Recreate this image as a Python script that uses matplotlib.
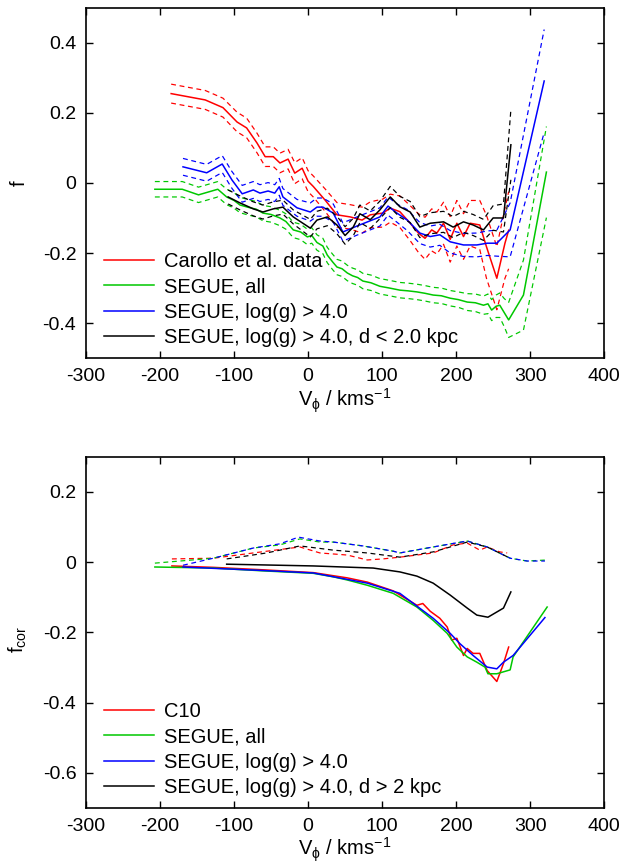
import numpy as np
import matplotlib
matplotlib.use('Agg')
import matplotlib.pyplot as plt

plt.rcParams['font.family'] = ['Liberation Sans', 'DejaVu Sans']
plt.rcParams['mathtext.fontset'] = 'custom'
plt.rcParams['mathtext.rm'] = 'Liberation Sans'
plt.rcParams['mathtext.it'] = 'Liberation Sans'
plt.rcParams['mathtext.fallback'] = 'stixsans'

RED, GREEN, BLUE, BLACK = '#ff0000', '#00c800', '#0000ff', '#000000'

# ---- top panel: f vs V_phi (solid = value, dashed = value +/- err)
v_car = [-185, -139, -115, -96, -83, -69, -58, -47, -38, -27, -18, -8, 0, 7, 23, 39, 57, 73, 84,
         101, 111, 124, 138, 149, 158, 167, 174, 183, 192, 201, 210, 219, 232, 241, 255, 266, 271]
f_car = [0.255, 0.237, 0.215, 0.174, 0.157, 0.114, 0.075, 0.075, 0.057, 0.068, 0.028, 0.042, 0.005,
         -0.01, -0.049, -0.091, -0.097, -0.106, -0.091, -0.086, -0.072, -0.082, -0.115, -0.143, -0.158,
         -0.134, -0.143, -0.115, -0.161, -0.115, -0.153, -0.115, -0.12, -0.182, -0.272, -0.172, -0.135]
e_car = [0.027, 0.027, 0.027, 0.028, 0.028, 0.028, 0.028, 0.028, 0.028, 0.028, 0.03, 0.03, 0.03,
         0.03, 0.032, 0.035, 0.035, 0.037, 0.037, 0.04, 0.04, 0.045, 0.05, 0.055, 0.06,
         0.06, 0.06, 0.06, 0.065, 0.065, 0.065, 0.065, 0.07, 0.09, 0.09, 0.1, 0.11]

v_all = [-207, -170, -148, -122, -110, -100, -92, -80, -70, -61, -50, -38, -30, -20, -10, -1, 5, 12,
         20, 26, 33, 39, 46, 53, 60, 67, 74, 85, 97, 110, 124, 135, 147, 158, 169, 180, 192, 203,
         215, 226, 237, 243, 248, 254, 259, 265, 271, 291, 322]
f_all = [-0.018, -0.018, -0.034, -0.018, -0.04, -0.05, -0.063, -0.07, -0.075, -0.086, -0.09, -0.1,
         -0.11, -0.134, -0.14, -0.154, -0.15, -0.17, -0.18, -0.206, -0.225, -0.24, -0.245, -0.257,
         -0.265, -0.27, -0.28, -0.285, -0.295, -0.3, -0.306, -0.308, -0.311, -0.315, -0.32, -0.322,
         -0.329, -0.333, -0.34, -0.342, -0.349, -0.345, -0.363, -0.352, -0.349, -0.37, -0.391,
         -0.32, 0.031]
e_all = [0.022] * 38 + [0.024, 0.025, 0.026, 0.028, 0.03, 0.032, 0.035, 0.04, 0.05, 0.1, 0.13]

v_lg = [-169, -137, -116, -103, -89, -74, -65, -54, -45, -39, -34, -15, 3, 12, 20, 34, 47, 66, 84,
        97, 108, 120, 134, 151, 165, 178, 192, 210, 228, 242, 255, 273, 319]
f_lg = [0.046, 0.029, 0.054, 0.009, -0.031, -0.02, -0.029, -0.023, -0.029, -0.011, -0.04, -0.071,
        -0.083, -0.069, -0.069, -0.086, -0.14, -0.123, -0.108, -0.097, -0.066, -0.086, -0.106,
        -0.143, -0.153, -0.148, -0.168, -0.177, -0.177, -0.172, -0.172, -0.134, 0.291]
e_lg = [0.024] * 12 + [0.026] * 10 + [0.03, 0.03, 0.03, 0.03, 0.032, 0.033, 0.034, 0.035, 0.037,
                                      0.077, 0.147]

v_d2 = [-108, -92, -74, -61, -47, -34, -20, 3, 12, 26, 39, 50, 61, 70, 84, 97, 111, 124, 138, 151,
        165, 183, 196, 210, 223, 237, 250, 264, 274]
f_d2 = [-0.04, -0.057, -0.074, -0.083, -0.074, -0.069, -0.097, -0.129, -0.106, -0.097, -0.12, -0.15,
        -0.126, -0.088, -0.105, -0.077, -0.04, -0.068, -0.083, -0.126, -0.115, -0.111, -0.126,
        -0.111, -0.12, -0.134, -0.1, -0.1, 0.109]
e_d2 = [0.02] * 7 + [0.025] * 9 + [0.03] * 10 + [0.035, 0.04, 0.1]

# ---- bottom panel: f_cor vs V_phi (solid and dashed curves)
vc_c10 = [-184, -128, -61, 7, 53, 80, 115, 147, 155, 165, 178, 188, 194, 201, 210, 215, 223, 232,
          242, 255, 264, 271]
fc_c10 = [-0.011, -0.015, -0.022, -0.03, -0.045, -0.057, -0.082, -0.123, -0.118, -0.14, -0.16,
          -0.185, -0.222, -0.217, -0.266, -0.246, -0.26, -0.26, -0.309, -0.34, -0.289, -0.242]
vd_c10 = [-184, -128, -74, -11, 16, 53, 80, 101, 124, 147, 169, 196, 215, 232, 242, 259, 269]
fd_c10 = [0.009, 0.011, 0.026, 0.043, 0.026, 0.02, 0.006, 0.009, 0.014, 0.02, 0.026, 0.049, 0.054,
          0.034, 0.043, 0.029, 0.026]

vc_all = [-207, -128, -61, 7, 34, 53, 80, 115, 147, 169, 188, 201, 215, 228, 239, 243, 255, 273,
          277, 323]
fc_all = [-0.014, -0.017, -0.025, -0.032, -0.042, -0.051, -0.066, -0.089, -0.128, -0.166, -0.203,
          -0.242, -0.27, -0.285, -0.299, -0.318, -0.318, -0.307, -0.27, -0.128]
vd_all = [-207, -128, -74, -38, -11, 16, 34, 74, 115, 124, 169, 215, 242, 273, 296, 323]
fd_all = [-0.003, 0.011, 0.04, 0.049, 0.066, 0.057, 0.057, 0.046, 0.031, 0.026, 0.043, 0.06, 0.043,
          0.011, 0.003, 0.006]

vc_lg = [-169, -61, 7, 80, 124, 169, 192, 205, 223, 242, 255, 264, 277, 320]
fc_lg = [-0.014, -0.024, -0.031, -0.06, -0.089, -0.16, -0.203, -0.232, -0.266, -0.299, -0.304,
         -0.285, -0.266, -0.158]
vd_lg = [-169, -128, -74, -38, -13, 16, 34, 74, 115, 124, 169, 215, 242, 273, 296, 320]
fd_lg = [-0.009, 0.011, 0.04, 0.052, 0.071, 0.06, 0.057, 0.046, 0.031, 0.026, 0.043, 0.06, 0.043,
         0.011, 0.003, 0.003]

vc_d2 = [-110, 7, 88, 124, 147, 169, 192, 215, 228, 243, 264, 274]
fc_d2 = [-0.006, -0.011, -0.017, -0.028, -0.04, -0.06, -0.094, -0.131, -0.151, -0.157, -0.131,
         -0.085]
vd_d2 = [-110, -56, -11, 34, 80, 124, 169, 215, 242, 273]
fd_d2 = [0.009, 0.026, 0.046, 0.034, 0.026, 0.014, 0.029, 0.057, 0.043, 0.011]

xticks = [-300, -200, -100, 0, 100, 200, 300, 400]
top_yticks = [-0.4, -0.2, 0, 0.2, 0.4]
bot_yticks = [-0.6, -0.4, -0.2, 0, 0.2]

FS = 14
LFS = 14.5
LW = 1.1
DASH = (4, 3)

fig = plt.figure(figsize=(6.28, 8.65), dpi=100)
ax1 = fig.add_axes([0.137, 0.586, 0.825, 0.405])
ax2 = fig.add_axes([0.137, 0.066, 0.825, 0.406])

top = [(v_car, f_car, e_car, RED, 'Carollo et al. data'),
       (v_all, f_all, e_all, GREEN, 'SEGUE, all'),
       (v_lg, f_lg, e_lg, BLUE, 'SEGUE, log(g) > 4.0'),
       (v_d2, f_d2, e_d2, BLACK, 'SEGUE, log(g) > 4.0, d < 2.0 kpc')]
for v, f, e, c, lab in top:
    v, f, e = np.array(v), np.array(f), np.array(e)
    ax1.plot(v, f, color=c, lw=LW, label=lab)
    ax1.plot(v, f + e, color=c, lw=LW * 0.8, dashes=DASH)
    ax1.plot(v, f - e, color=c, lw=LW * 0.8, dashes=DASH)

bot = [(vc_c10, fc_c10, vd_c10, fd_c10, RED, 'C10'),
       (vc_all, fc_all, vd_all, fd_all, GREEN, 'SEGUE, all'),
       (vc_lg, fc_lg, vd_lg, fd_lg, BLUE, 'SEGUE, log(g) > 4.0'),
       (vc_d2, fc_d2, vd_d2, fd_d2, BLACK, 'SEGUE, log(g) > 4.0, d > 2 kpc')]
for vc, fc, vd, fd, c, lab in bot:
    ax2.plot(vc, fc, color=c, lw=LW, label=lab)
    ax2.plot(vd, fd, color=c, lw=LW * 0.8, dashes=DASH)

for ax, yt, ylim in [(ax1, top_yticks, (-0.5, 0.5)), (ax2, bot_yticks, (-0.7, 0.3))]:
    ax.set_xlim(-300, 400)
    ax.set_ylim(*ylim)
    ax.set_xticks(xticks)
    ax.set_xticklabels([str(t) for t in xticks])
    ax.set_yticks(yt)
    ax.set_yticklabels(['0' if t == 0 else f'{t:.1f}' for t in yt])
    ax.tick_params(direction='in', length=5, width=1.0, top=True, right=True,
                   labelsize=FS, pad=7)
    for s in ax.spines.values():
        s.set_linewidth(1.2)
    ax.set_xlabel(r'V$_{\phi}$ / kms$^{{-}1}$', fontsize=LFS, labelpad=1)
    ax.legend(loc='lower left', bbox_to_anchor=(0.0, -0.021), frameon=False, fontsize=LFS,
              handlelength=2.45, handletextpad=0.5, labelspacing=0.32, borderaxespad=0.5,
              borderpad=0.4)

ax1.set_ylabel('f', fontsize=LFS)
ax1.yaxis.set_label_coords(-0.11, 0.5)
ax2.set_ylabel(r'f$_{\rm cor}$', fontsize=LFS)
ax2.yaxis.set_label_coords(-0.11, 0.48)

fig.savefig('out.png', dpi=100)
